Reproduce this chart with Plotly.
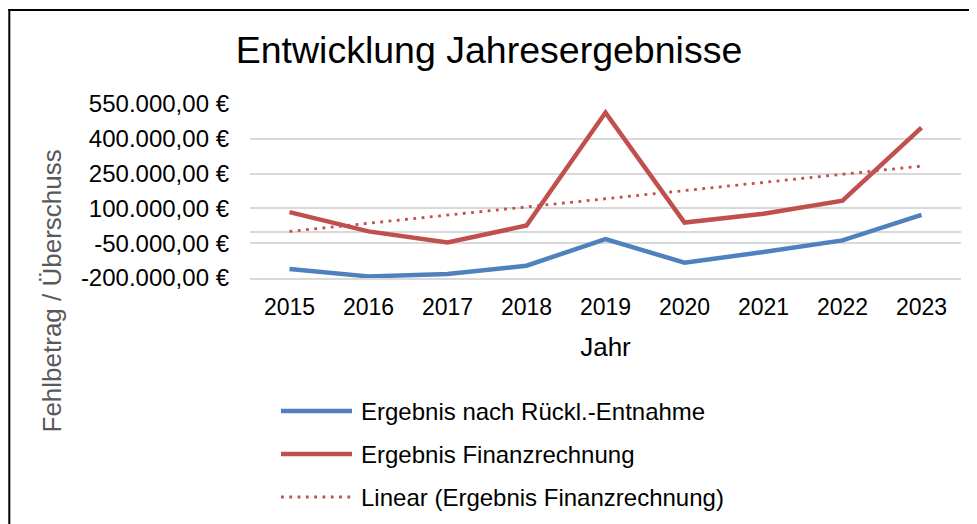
import numpy as np
import plotly.graph_objects as go

# ---------------- data ----------------
years = ["2015", "2016", "2017", "2018", "2019", "2020", "2021", "2022", "2023"]
ergebnis_rueckl = [-161000, -193000, -183000, -147000, -32000, -134000, -88000, -38000, 72000]
ergebnis_finanz = [84000, 1000, -47000, 26000, 513000, 39000, 77000, 133000, 448000]
y_tickvals = [-200000, -50000, 100000, 250000, 400000, 550000]
y_ticktext = ["-200.000,00 €", "-50.000,00 €", "100.000,00 €", "250.000,00 €",
              "400.000,00 €", "550.000,00 €"]
series_names = ["Ergebnis nach Rückl.-Entnahme", "Ergebnis Finanzrechnung",
                "Linear (Ergebnis Finanzrechnung)"]
title_text = "Entwicklung Jahresergebnisse"
x_title = "Jahr"
y_title = "Fehlbetrag / Überschuss"

# linear trend (least squares) of the Finanzrechnung series
idx = np.arange(len(years))
slope, intercept = np.polyfit(idx, ergebnis_finanz, 1)
trend = (slope * idx + intercept).tolist()

# ---------------- style ----------------
OFF = 8  # page body margin
W, H = 977 - OFF, 524 - OFF
ML, MR, MT, MB = 250 - OFF, 16, 104 - OFF, 246
PW, PH = W - ML - MR, H - MT - MB
FONT = "Liberation Sans, Arial, Helvetica, sans-serif"
BLUE = "#4F81BD"
RED = "#C0504D"
GRID = "#D9D9D9"


def px_x(x):
    # page pixel -> paper fraction
    return (x - OFF - ML) / PW


def px_y(y):
    return (H - MB - (y - OFF)) / PH


fig = go.Figure()
fig.add_trace(go.Scatter(x=years, y=ergebnis_rueckl, mode="lines", name=series_names[0],
                         line=dict(color=BLUE, width=4.5), showlegend=False))
fig.add_trace(go.Scatter(x=years, y=ergebnis_finanz, mode="lines", name=series_names[1],
                         line=dict(color=RED, width=4.5), showlegend=False))
fig.add_trace(go.Scatter(x=years, y=trend, mode="lines", name=series_names[2],
                         line=dict(color=RED, width=2.8, dash="2.8px,5.5px"), showlegend=False))

shapes = []
annotations = []

# outer chart border (top and left edges visible in the frame)
border = dict(color="black", width=2)
shapes.append(dict(type="line", xref="paper", yref="paper",
                   x0=px_x(8.3), x1=px_x(1000), y0=px_y(10), y1=px_y(10), line=border, layer="above"))
shapes.append(dict(type="line", xref="paper", yref="paper",
                   x0=px_x(9.3), x1=px_x(9.3), y0=px_y(9), y1=px_y(560), line=border, layer="above"))

# custom legend
legend_y = [411, 454, 497]
legend_styles = [dict(color=BLUE, width=4.5), dict(color=RED, width=4.5),
                 dict(color=RED, width=2.8, dash="2.8px,5.5px")]
for name, ly, st in zip(series_names, legend_y, legend_styles):
    shapes.append(dict(type="line", xref="paper", yref="paper",
                       x0=px_x(281), x1=px_x(352), y0=px_y(ly), y1=px_y(ly), line=st))
    annotations.append(dict(text=name, xref="paper", yref="paper", x=px_x(359), y=px_y(ly),
                            xanchor="left", yanchor="middle", showarrow=False,
                            font=dict(family=FONT, size=24, color="black")))

# y-axis title (positioned like the original, centred on the chart area)
annotations.append(dict(text=y_title, xref="paper", yref="paper", x=px_x(51), y=px_y(291.5),
                        xanchor="center", yanchor="middle", textangle=-90, showarrow=False,
                        font=dict(family=FONT, size=26, color="#595959")))

fig.update_layout(
    width=W, height=H,
    margin=dict(l=ML, r=MR, t=MT, b=MB),
    paper_bgcolor="white", plot_bgcolor="white",
    title=dict(text=title_text, x=(489 - OFF) / W, xanchor="center",
               y=1 - (51 - OFF - 1) / H, yanchor="middle",
               font=dict(family=FONT, size=37.5, color="black")),
    font=dict(family=FONT, color="black"),
    shapes=shapes, annotations=annotations,
    showlegend=False,
)
fig.update_xaxes(type="category", categoryorder="array", categoryarray=years,
                 range=[-0.5, len(years) - 0.5], showgrid=False, zeroline=False,
                 showline=True, linecolor=GRID, linewidth=1.5, ticks="",
                 tickfont=dict(family=FONT, size=23, color="black"), ticklabelstandoff=8,
                 title=dict(text=x_title, font=dict(family=FONT, size=26, color="black"), standoff=18))
fig.update_yaxes(range=[-200000, 550000], tickvals=y_tickvals, ticktext=y_ticktext,
                 showgrid=True, gridcolor=GRID, gridwidth=1.5,
                 zeroline=True, zerolinecolor=GRID, zerolinewidth=1.5,
                 showline=False, ticks="", ticklabelstandoff=20,
                 tickfont=dict(family=FONT, size=24, color="black"))

fig.write_html("out.html")
